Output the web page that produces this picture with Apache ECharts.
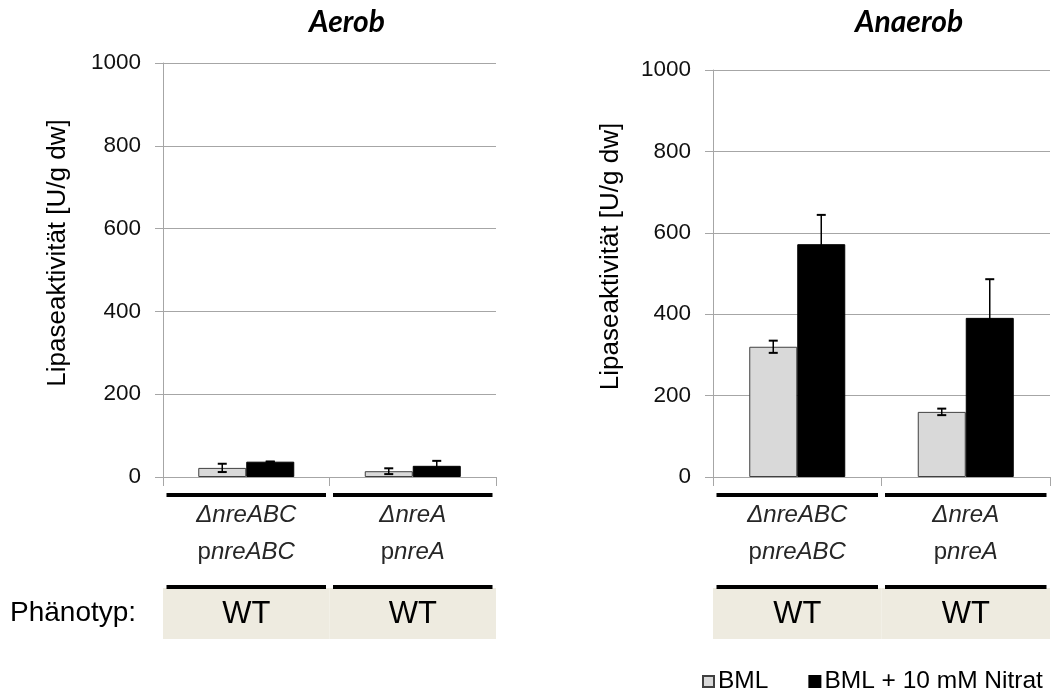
<!DOCTYPE html>
<html>
<head>
<meta charset="utf-8">
<script src="https://cdn.jsdelivr.net/npm/echarts@6/dist/echarts.min.js"></script>
<style>
html,body{margin:0;padding:0;background:#fff;}
#chart{width:1051px;height:695px;}
</style>
</head>
<body>
<div id="chart"></div>
<script>
// ---- data ----
const categories = ['ΔnreABC\npnreABC', 'ΔnreA\npnreA'];
const phenotype = ['WT', 'WT'];
const seriesNames = ['BML', 'BML + 10 mM Nitrat'];
const panelTitles = ['Aerob', 'Anaerob'];
const aerobBML = [22, 14];
const aerobBMLErr = [10, 7];
const aerobNitrat = [37, 27];
const aerobNitratErr = [0, 12];
const anaerobBML = [320, 160];
const anaerobBMLErr = [15, 8];
const anaerobNitrat = [572, 391];
const anaerobNitratErr = [72, 95];
const yTicks = [0, 200, 400, 600, 800, 1000];
const yName = 'Lipaseaktivität [U/g dw]';
const phenoLabel = 'Phänotyp:';

// ---- styling ----
const FONT = '"Liberation Sans", Arial, sans-serif';
const BAR_W = 48;
const LIGHT = '#d9d9d9';
const DARK = '#000000';
const GRIDC = '#a6a6a6';

function catLabel(v) {
  const parts = v.split('\n');
  const l1 = parts[0];
  const l2 = parts[1];
  return '{i|' + l1 + '}\n{n|' + l2.charAt(0) + '}{i|' + l2.slice(1) + '}';
}

function errSeries(gi, vals, errs, offset) {
  return {
    type: 'custom',
    xAxisIndex: gi, yAxisIndex: gi,
    silent: true,
    z: 5,
    clip: false,
    data: vals.map((v, i) => [i, v, errs[i]]),
    encode: { x: 0, y: 1 },
    renderItem: function (params, api) {
      const idx = api.value(0), v = api.value(1), e = api.value(2);
      const top = api.coord([idx, v + e]);
      const bot = api.coord([idx, Math.max(v - e, 0)]);
      const x = top[0] + offset;
      const cw = 4.5;
      const st = { stroke: '#000', lineWidth: 1.5, fill: null };
      return {
        type: 'group',
        children: [
          { type: 'line', shape: { x1: x, y1: top[1], x2: x, y2: bot[1] }, style: st },
          { type: 'line', shape: { x1: x - cw, y1: top[1], x2: x + cw, y2: top[1] }, style: { stroke: '#000', lineWidth: 2 } },
          { type: 'line', shape: { x1: x - cw, y1: bot[1], x2: x + cw, y2: bot[1] }, style: { stroke: '#000', lineWidth: 2 } }
        ]
      };
    }
  };
}

function decorSeries(gi) {
  return {
    type: 'custom',
    xAxisIndex: gi, yAxisIndex: gi,
    silent: true,
    clip: false,
    z: 1,
    data: phenotype.map((p, i) => [i, 0, p]),
    encode: { x: 0, y: 1 },
    renderItem: function (params, api) {
      const idx = api.value(0);
      const c = api.coord([idx, 0]);
      const w = api.size([1, 0])[0];
      const x0 = c[0] - w / 2;
      const y0 = c[1];
      return {
        type: 'group',
        children: [
          { type: 'rect', shape: { x: x0, y: y0 + 111, width: w, height: 51 }, style: { fill: '#eeebe0' } },
          { type: 'rect', shape: { x: x0 + 3.5, y: y0 + 16, width: w - 7, height: 4 }, style: { fill: '#000' } },
          { type: 'rect', shape: { x: x0 + 3.5, y: y0 + 108, width: w - 7, height: 4 }, style: { fill: '#000' } },
          { type: 'text', x: c[0], y: y0 + 137, style: { text: phenotype[idx], fill: '#000', font: '31px ' + FONT, textAlign: 'center', textVerticalAlign: 'middle' } }
        ]
      };
    }
  };
}

const grids = [
  { left: 163, top: 63, width: 333, height: 414 },
  { left: 713, top: 70, width: 337, height: 407 }
];

function xAxisCfg(gi) {
  return {
    type: 'category', gridIndex: gi, data: categories,
    axisLine: { show: true, lineStyle: { color: GRIDC, width: 1 } },
    axisTick: { show: true, length: 9, interval: 0, lineStyle: { color: GRIDC } },
    axisLabel: {
      interval: 0, margin: 20, formatter: catLabel,
      rich: {
        i: { fontFamily: FONT, fontStyle: 'italic', fontSize: 24, lineHeight: 37, color: '#262626' },
        n: { fontFamily: FONT, fontSize: 24, lineHeight: 37, color: '#262626' }
      }
    }
  };
}

function yAxisCfg(gi, gap) {
  return {
    type: 'value', gridIndex: gi, min: 0, max: 1000, interval: 200,
    name: yName, nameLocation: 'middle', nameGap: gap, nameRotate: 90,
    nameTextStyle: { fontFamily: FONT, fontSize: 26, color: '#000', padding: [0, 0, 0, 34] },
    axisLine: { show: true, lineStyle: { color: GRIDC } },
    axisTick: { show: true, length: 8, lineStyle: { color: GRIDC } },
    splitLine: { show: true, lineStyle: { color: GRIDC, width: 1 } },
    axisLabel: { fontFamily: FONT, fontSize: 22.5, color: '#111', margin: 22,
      formatter: function (v) { return yTicks.indexOf(v) >= 0 ? String(v) : ''; } }
  };
}

function barSeries(gi, name, data, color) {
  return {
    type: 'bar', name: name, xAxisIndex: gi, yAxisIndex: gi,
    data: data, barWidth: BAR_W, barGap: '0%',
    itemStyle: { color: color, borderColor: color === LIGHT ? '#404040' : '#000', borderWidth: 1 },
    z: 3
  };
}

const titleStyle = { fontFamily: 'Lato, sans-serif', fontStyle: 'italic', fontWeight: 'bold', fontSize: 30, color: '#000' };

const option = {
  backgroundColor: '#fff',
  animation: false,
  textStyle: { fontFamily: FONT },
  title: [
    { text: panelTitles[0], left: 347, top: 7, textAlign: 'center', padding: 0, textStyle: titleStyle },
    { text: panelTitles[1], left: 909, top: 7, textAlign: 'center', padding: 0, textStyle: titleStyle }
  ],
  legend: {
    data: seriesNames, left: 702, top: 669, icon: 'rect', itemWidth: 11, itemHeight: 11, itemGap: 40,
    padding: 0,
    textStyle: { fontFamily: FONT, fontSize: 24.5, color: '#000', padding: [0, 0, 0, -1] }
  },
  graphic: [
    { type: 'text', left: 10, top: 599, style: { text: phenoLabel, font: '28px ' + FONT, fill: '#000' } }
  ],
  grid: grids,
  xAxis: [xAxisCfg(0), xAxisCfg(1)],
  yAxis: [yAxisCfg(0, 92), yAxisCfg(1, 89)],
  series: [
    barSeries(0, seriesNames[0], aerobBML, LIGHT),
    barSeries(0, seriesNames[1], aerobNitrat, DARK),
    barSeries(1, seriesNames[0], anaerobBML, LIGHT),
    barSeries(1, seriesNames[1], anaerobNitrat, DARK),
    errSeries(0, aerobBML, aerobBMLErr, -BAR_W / 2),
    errSeries(0, aerobNitrat, aerobNitratErr, BAR_W / 2),
    errSeries(1, anaerobBML, anaerobBMLErr, -BAR_W / 2),
    errSeries(1, anaerobNitrat, anaerobNitratErr, BAR_W / 2),
    decorSeries(0),
    decorSeries(1)
  ]
};

const chart = echarts.init(document.getElementById('chart'), null, { renderer: 'canvas' });
chart.setOption(option);
</script>
</body>
</html>
